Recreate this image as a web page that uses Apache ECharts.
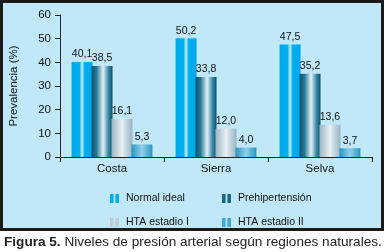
<!DOCTYPE html>
<html><head><meta charset="utf-8">
<script src="https://cdn.jsdelivr.net/npm/echarts@6/dist/echarts.min.js"></script>
<style>html,body{margin:0;padding:0;background:#fff}#c{width:384px;height:252px}</style>
</head><body><div id="c"></div>
<script>
const categories = ['Costa', 'Sierra', 'Selva'];
const seriesNames = ['Normal ideal', 'Prehipertensión', 'HTA estadio I', 'HTA estadio II'];
const normalIdeal = [40.1, 50.2, 47.5];
const prehipertension = [38.5, 33.8, 35.2];
const htaEstadioI = [16.1, 12.0, 13.6];
const htaEstadioII = [5.3, 4.0, 3.7];
const yTicks = [0, 10, 20, 30, 40, 50, 60];

const FONT = "'Liberation Sans', Arial, sans-serif";
function grad(stops){
  return new echarts.graphic.LinearGradient(0,0,1,0, stops.map(s=>({offset:s[0],color:s[1]})));
}
const styles = [
  grad([[0,'#00a8ec'],[0.38,'#00b0f0'],[0.5,'#c8f0ff'],[0.62,'#00b0f0'],[1,'#00a8ec']]),
  grad([[0,'#08506e'],[0.25,'#2a7c9c'],[0.55,'#e6f2f6'],[0.8,'#3b8cac'],[1,'#08506e']]),
  grad([[0,'#98b4c4'],[0.5,'#e8f0f4'],[1,'#98b4c4']]),
  grad([[0,'#2894c4'],[0.5,'#90d0e8'],[1,'#2894c4']])
];
const legendColors = ['#00b0f0','#1a6888','#c0ccd4','#40a8d4'];
const dataSets = [normalIdeal, prehipertension, htaEstadioI, htaEstadioII];
const icon = 'path://M0,0H4V10H0Z M6,0H10V10H6Z';

const chart = echarts.init(document.getElementById('c'), null, {renderer:'canvas'});
chart.setOption({
  animation:false,
  graphic:[
    {type:'rect', shape:{x:1.5,y:1.5,width:381,height:228}, style:{fill:'#c0e8f8', stroke:'#1a1a1a', lineWidth:3}, z:-10},
    {type:'text', left:4, top:235, style:{
      text:'{b|Figura 5.} Niveles de presión arterial según regiones naturales.',
      font:"13.6px 'Liberation Sans', Arial, sans-serif", fill:'#222',
      rich:{b:{fontWeight:'bold', fontSize:13.6, fontFamily:FONT, fill:'#222'}}
    }}
  ],
  grid:{left:60, right:12, top:15, bottom:95},
  legend:[
    {left:110, top:193, padding:0, orient:'vertical', itemGap:13, itemWidth:9, itemHeight:9, icon:icon,
     data:[{name:seriesNames[0], itemStyle:{color:legendColors[0]}},{name:seriesNames[2], itemStyle:{color:legendColors[2]}}],
     textStyle:{fontFamily:FONT, fontSize:10.5, color:'#111', padding:[0,0,0,2]}},
    {left:222, top:193, padding:0, orient:'vertical', itemGap:13, itemWidth:9, itemHeight:9, icon:icon,
     data:[{name:seriesNames[1], itemStyle:{color:legendColors[1]}},{name:seriesNames[3], itemStyle:{color:legendColors[3]}}],
     textStyle:{fontFamily:FONT, fontSize:10.5, color:'#111', padding:[0,0,0,2]}}
  ],
  xAxis:{type:'category', data:categories,
    axisLine:{lineStyle:{color:'#222', width:1}},
    axisTick:{show:true, length:5, alignWithLabel:false, lineStyle:{color:'#222'}},
    axisLabel:{fontFamily:FONT, fontSize:11.5, color:'#111', margin:6}},
  yAxis:{type:'value', min:yTicks[0], max:yTicks[yTicks.length-1], interval:10,
    name:'Prevalencia (%)', nameLocation:'middle', nameGap:40, nameRotate:90,
    nameTextStyle:{fontFamily:FONT, fontSize:11.5, color:'#111'},
    axisLine:{show:true, lineStyle:{color:'#222'}},
    axisTick:{show:true, length:5, lineStyle:{color:'#222'}},
    splitLine:{show:false},
    axisLabel:{fontFamily:FONT, fontSize:11.5, color:'#111', margin:9}},
  series: dataSets.map((d,i)=>({
    name:seriesNames[i], type:'bar', data:d,
    barWidth:21, barGap:'-5%', barCategoryGap:'20%',
    itemStyle:{color:styles[i]},
    label:{show:true, position:'top', distance:2, fontFamily:FONT, fontSize:10.5, color:'#111',
      formatter:p=>p.value.toFixed(1).replace('.',',')}
  }))
});
</script></body></html>
